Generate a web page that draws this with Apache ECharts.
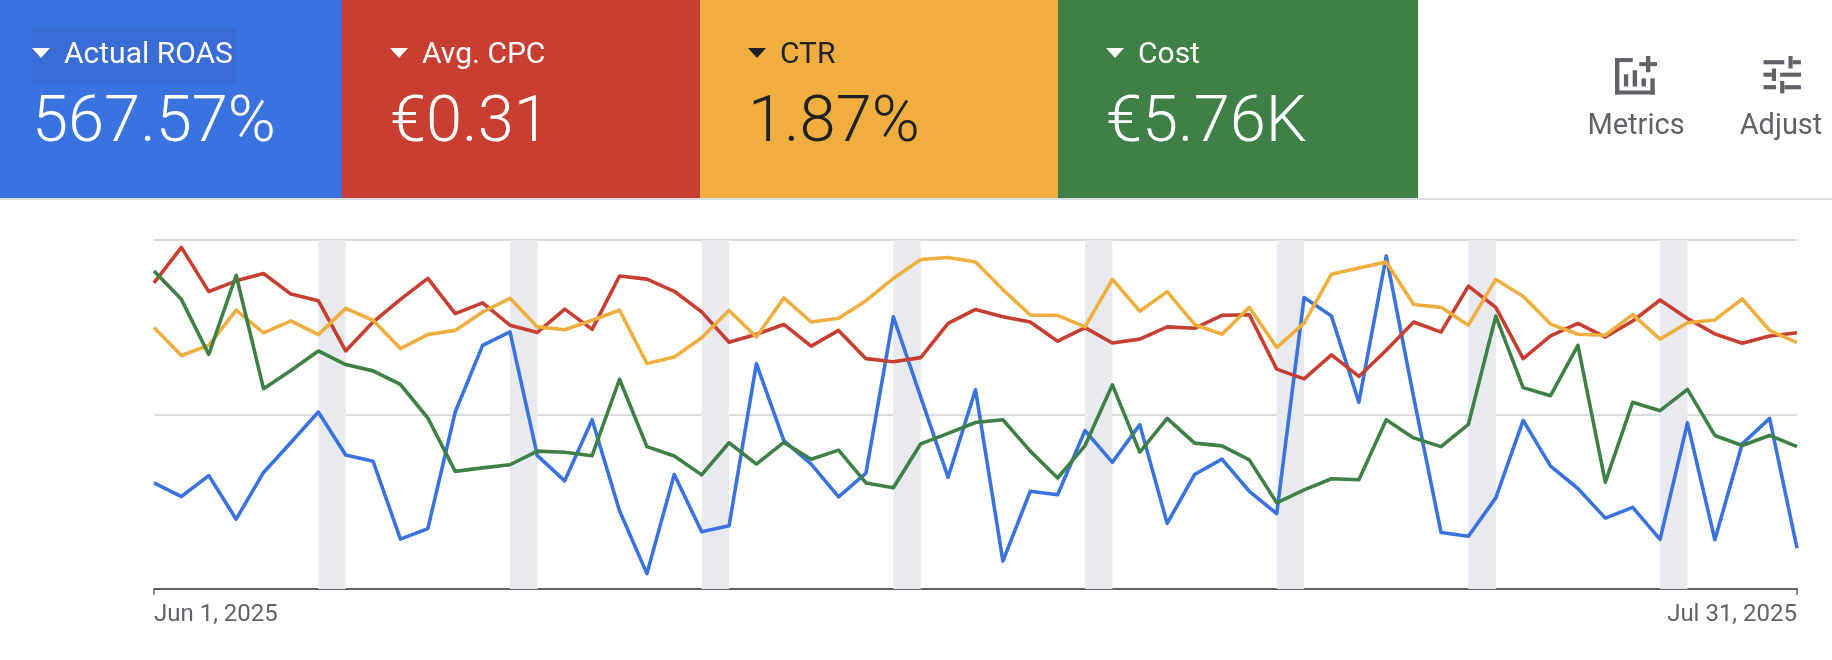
<!DOCTYPE html>
<html>
<head>
<meta charset="utf-8">
<style>html,body{margin:0;padding:0;background:#fff}#c{width:1832px;height:660px}</style>
<script src="https://cdn.jsdelivr.net/npm/echarts@6/dist/echarts.min.js"></script>
</head>
<body>
<div id="c"></div>
<script>
const categories = ["Jun 1, 2025","Jun 2, 2025","Jun 3, 2025","Jun 4, 2025","Jun 5, 2025","Jun 6, 2025","Jun 7, 2025","Jun 8, 2025","Jun 9, 2025","Jun 10, 2025","Jun 11, 2025","Jun 12, 2025","Jun 13, 2025","Jun 14, 2025","Jun 15, 2025","Jun 16, 2025","Jun 17, 2025","Jun 18, 2025","Jun 19, 2025","Jun 20, 2025","Jun 21, 2025","Jun 22, 2025","Jun 23, 2025","Jun 24, 2025","Jun 25, 2025","Jun 26, 2025","Jun 27, 2025","Jun 28, 2025","Jun 29, 2025","Jun 30, 2025","Jul 1, 2025","Jul 2, 2025","Jul 3, 2025","Jul 4, 2025","Jul 5, 2025","Jul 6, 2025","Jul 7, 2025","Jul 8, 2025","Jul 9, 2025","Jul 10, 2025","Jul 11, 2025","Jul 12, 2025","Jul 13, 2025","Jul 14, 2025","Jul 15, 2025","Jul 16, 2025","Jul 17, 2025","Jul 18, 2025","Jul 19, 2025","Jul 20, 2025","Jul 21, 2025","Jul 22, 2025","Jul 23, 2025","Jul 24, 2025","Jul 25, 2025","Jul 26, 2025","Jul 27, 2025","Jul 28, 2025","Jul 29, 2025","Jul 30, 2025","Jul 31, 2025"];
const roas = [30.4,26.5,32.5,20.0,33.4,42.0,50.7,38.4,36.6,14.3,17.3,50.7,69.8,73.7,38.2,31.0,48.5,22.4,4.4,32.8,16.4,18.1,64.6,42.5,35.8,26.4,33.2,78.0,55.0,32.0,57.1,8.0,28.0,27.0,45.4,36.3,47.1,18.8,32.8,37.2,28.0,21.6,83.5,78.2,53.5,95.4,55.0,16.2,15.1,26.1,48.3,35.2,28.8,20.3,23.4,14.2,47.6,14.1,41.6,48.9,11.7];
const cpc = [87.7,97.9,85.2,88.3,90.4,84.5,82.6,68.2,76.5,83.0,89.0,78.9,82.0,75.6,73.5,80.2,74.4,89.7,88.8,85.3,79.4,70.7,73.0,75.8,69.6,74.1,66.0,65.1,66.3,76.1,80.1,78.0,76.5,71.0,74.9,70.5,71.6,75.1,74.7,78.4,78.6,63.0,60.2,67.1,60.9,68.4,76.5,73.6,86.8,80.7,66.0,72.5,76.1,72.2,76.8,82.8,77.5,73.1,70.4,72.5,73.4];
const ctr = [74.9,66.9,69.8,79.9,73.4,76.8,72.9,80.4,77.0,68.9,72.9,74.1,79.4,83.3,75.1,74.3,77.0,79.9,64.6,66.5,72.0,79.8,72.2,83.4,76.5,77.6,82.6,89.0,94.4,95.0,93.7,85.8,78.5,78.4,75.1,88.7,79.6,85.2,75.8,73.0,80.7,69.2,76.2,90.2,92.0,93.7,81.5,80.7,75.6,88.7,83.9,75.9,73.0,72.7,78.6,71.6,76.3,77.1,83.1,74.1,70.6];
const cost = [91.1,83.0,67.2,89.9,57.4,62.6,68.2,64.3,62.5,58.6,49.0,33.7,34.7,35.6,39.5,39.2,38.2,60.1,40.8,38.1,32.7,41.9,35.8,42.0,37.2,39.8,30.4,29.0,41.6,44.6,47.7,48.5,39.5,31.8,41.1,58.5,39.2,48.9,41.8,41.0,37.0,24.7,28.4,31.6,31.3,48.5,43.3,40.8,47.2,78.2,57.7,55.4,69.8,30.6,53.5,51.1,57.2,44.0,41.1,44.0,40.8];
const weekendStarts = ["Jun 7, 2025","Jun 14, 2025","Jun 21, 2025","Jun 28, 2025","Jul 5, 2025","Jul 12, 2025","Jul 19, 2025","Jul 26, 2025"];
const weekendEnds = ["Jun 8, 2025","Jun 15, 2025","Jun 22, 2025","Jun 29, 2025","Jul 6, 2025","Jul 13, 2025","Jul 20, 2025","Jul 27, 2025"];
const cardLabels = ["Actual ROAS","Avg. CPC","CTR","Cost"];
const cardValues = ["567.57%","€0.31","1.87%","€5.76K"];
const cardFills = ["#3A73E0","#C83E30","#EFAE3D","#3E8045"];
const cardInk = ["#fff","#fff","#202124","#fff"];
const cardEdges = [0,342,700,1058,1418];
const toolLabels = ["Metrics","Adjust"];

const FONT = 'Roboto';
const graphics = [];
cardLabels.forEach((t,i)=>{
  const x = cardEdges[i];
  graphics.push({type:'rect',silent:true,z:1,shape:{x:x,y:0,width:cardEdges[i+1]-x,height:198},style:{fill:cardFills[i]}});
  if(i===0) graphics.push({type:'rect',silent:true,z:2,shape:{x:32,y:28,width:204,height:55},style:{fill:'#3A6CD6'}});
  const tx = x + (i===0?32:48);
  graphics.push({type:'polygon',silent:true,z:3,shape:{points:[[tx,48],[tx+18,48],[tx+9,58]]},style:{fill:cardInk[i]}});
  graphics.push({type:'text',silent:true,z:3,x:tx+32,y:55,style:{text:t,fill:cardInk[i],font:'400 30px '+FONT,textAlign:'left',textVerticalAlign:'middle'}});
  graphics.push({type:'text',silent:true,z:3,x:tx,y:125,style:{text:cardValues[i],fill:cardInk[i],font:'300 65px '+FONT,textAlign:'left',textVerticalAlign:'middle'}});
});
graphics.push({type:'rect',silent:true,z:1,shape:{x:0,y:198,width:1832,height:2},style:{fill:'#DADCE0'}});
// toolbar icons, drawn as bars in a 24-unit icon grid
function icon(parts,ox,oy,sx,sy){
  parts.forEach(p=>graphics.push({type:'rect',silent:true,z:3,shape:{x:ox+(p[0])*sx,y:oy+(p[1])*sy,width:p[2]*sx,height:p[3]*sy},style:{fill:'#5F6368'}}));
}
icon([[17,2,2,8],[14,5,8,2],[3,3,2,18],[3,3,8,2],[3,19,18,2],[19,13,2,8],[7,11,2,6],[11,9,2,8],[15,13,2,4]],1615-3*2.21,56-2*2.03,2.21,2.03);
icon([[3,17,6,2],[3,5,10,2],[11,15,2,6],[13,17,8,2],[7,9,2,6],[3,11,4,2],[11,11,10,2],[15,3,2,6],[17,5,4,2]],1763.5-3*2.08,56-3*2.08,2.08,2.08);
[1636,1781].forEach((cx,i)=>{
  graphics.push({type:'text',silent:true,z:3,x:cx,y:127,style:{text:toolLabels[i],fill:'#5F6368',font:'400 29px '+FONT,textAlign:'center',textVerticalAlign:'middle'}});
});

const line = (name,data,color,extra)=>Object.assign({name,type:'line',data,symbol:'none',smooth:false,animation:false,silent:true,lineStyle:{color,width:3.6,join:'round'},itemStyle:{color}},extra||{});
const chart = echarts.init(document.getElementById('c'),null,{renderer:'canvas'});
chart.setOption({
  animation:false,
  textStyle:{fontFamily:FONT},
  graphic:{elements:graphics},
  grid:{left:154,right:35,top:240,bottom:71,containLabel:false},
  xAxis:{type:'category',data:categories,boundaryGap:false,
    axisLine:{lineStyle:{color:'#5F6368',width:2}},
    axisTick:{show:true,alignWithLabel:true,length:6,interval:(i)=>i===0||i===categories.length-1,lineStyle:{color:'#5F6368',width:1.5}},
    axisLabel:{interval:(i)=>i===0||i===categories.length-1,alignMinLabel:'left',alignMaxLabel:'right',showMinLabel:true,showMaxLabel:true,color:'#5F6368',fontSize:24,margin:14,fontFamily:FONT},
    splitLine:{show:false}},
  yAxis:{type:'value',min:0,max:100,interval:50,axisLine:{show:false},axisTick:{show:false},axisLabel:{show:false},splitLine:{show:true,lineStyle:{color:'#DADCE0',width:2}}},
  series:[
    line('Actual ROAS',roas,'#3A73E0',{z:3,markArea:{silent:true,itemStyle:{color:'#E8EAF0'},data:weekendStarts.map((s,i)=>[{xAxis:s},{xAxis:weekendEnds[i]}])}}),
    line('Avg. CPC',cpc,'#C83E30',{z:4}),
    line('CTR',ctr,'#EFAE3D',{z:5}),
    line('Cost',cost,'#3E8045',{z:6})
  ]
});
</script>
</body>
</html>
